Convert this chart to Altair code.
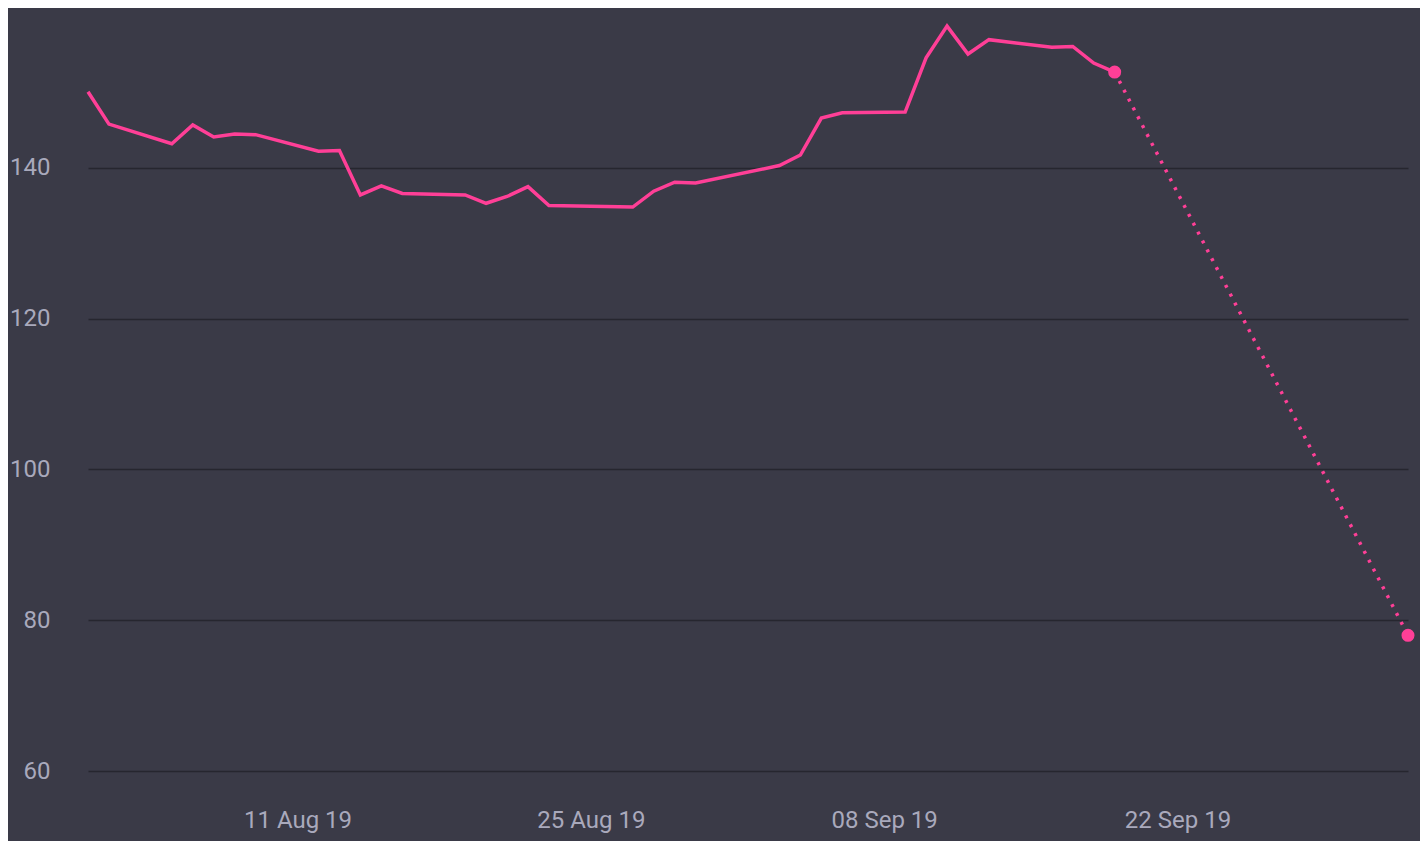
import altair as alt
import pandas as pd

dates = ["2019-08-01", "2019-08-02", "2019-08-05", "2019-08-06", "2019-08-07", "2019-08-08",
         "2019-08-09", "2019-08-12", "2019-08-13", "2019-08-14", "2019-08-15", "2019-08-16",
         "2019-08-19", "2019-08-20", "2019-08-21", "2019-08-22", "2019-08-23", "2019-08-27",
         "2019-08-28", "2019-08-29", "2019-08-30", "2019-09-03", "2019-09-04", "2019-09-05",
         "2019-09-06", "2019-09-09", "2019-09-10", "2019-09-11", "2019-09-12", "2019-09-13",
         "2019-09-16", "2019-09-17", "2019-09-18", "2019-09-19"]
values = [150.1, 145.8, 143.2, 145.7, 144.1, 144.5,
          144.4, 142.2, 142.3, 136.4, 137.6, 136.6,
          136.4, 135.3, 136.2, 137.5, 135.0, 134.8,
          136.9, 138.1, 138.0, 140.3, 141.7, 146.6,
          147.3, 147.4, 154.6, 158.8, 155.1, 157.0,
          156.0, 156.1, 153.9, 152.7]

proj_dates = ["2019-09-19", "2019-10-03"]
proj_values = [152.7, 78.0]

y_ticks = [60, 80, 100, 120, 140]
x_tick_dates = [(2019, 8, 11), (2019, 8, 25), (2019, 9, 8), (2019, 9, 22)]

hist = pd.DataFrame({"date": dates, "value": values})
proj = pd.DataFrame({"date": proj_dates, "value": proj_values})

PINK = "#ff3f97"
TEXT = "#a9a9bc"
FONT = "Roboto"

x_enc = alt.X(
    "date:T",
    scale=alt.Scale(type="utc",
                    domain=[alt.DateTime(year=2019, month=8, date=1, utc=True),
                            alt.DateTime(year=2019, month=10, date=3, utc=True)]),
    axis=alt.Axis(
        values=[alt.DateTime(year=y, month=m, date=d, utc=True) for (y, m, d) in x_tick_dates],
        format="%d %b %y", title=None, grid=False, domain=False, ticks=False,
        labelPadding=37, labelFontSize=24, labelColor=TEXT, labelFont=FONT,
    ),
)
y_enc = alt.Y(
    "value:Q",
    scale=alt.Scale(domain=[60, 161.2], nice=False, zero=False),
    axis=alt.Axis(
        values=y_ticks, title=None, domain=False, ticks=False,
        grid=True, gridColor="#26262f", gridWidth=1.5,
        labelPadding=38, labelFontSize=24, labelColor=TEXT, labelFont=FONT,
    ),
)

line = alt.Chart(hist).mark_line(color=PINK, strokeWidth=3.5).encode(x=x_enc, y=y_enc)
dotted = alt.Chart(proj).mark_line(color=PINK, strokeWidth=3.5, strokeDash=[3, 7]).encode(
    x="date:T", y="value:Q")
pts = alt.Chart(proj).mark_circle(color=PINK, size=170, opacity=1).encode(
    x="date:T", y="value:Q")

chart = alt.layer(line, dotted, pts).properties(
    width=1320, height=763,
    background="#3a3a47",
    autosize=alt.AutoSizeParams(type="none"),
    padding={"left": 80, "top": 0, "right": 12, "bottom": 70},
).configure_view(stroke=None)

chart.save("out.html", embed_options={"renderer": "svg", "actions": False})
